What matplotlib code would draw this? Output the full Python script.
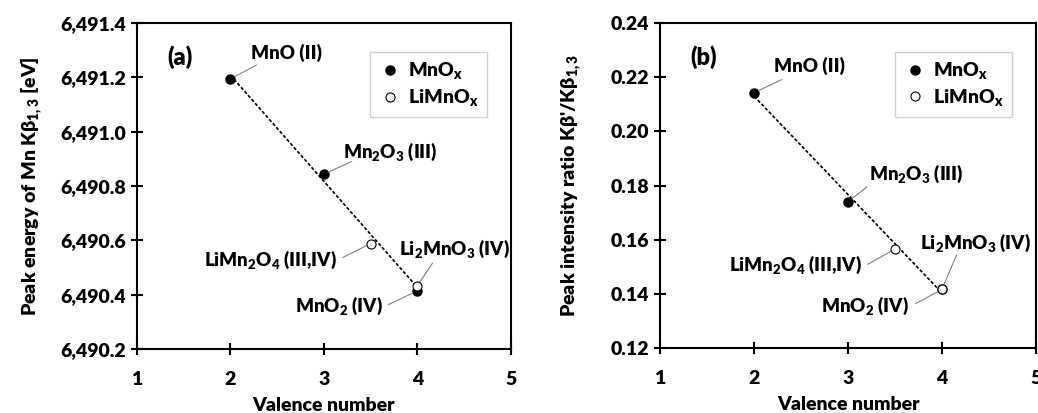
import numpy as np
import matplotlib
matplotlib.use('Agg')
import matplotlib.pyplot as plt
from matplotlib.ticker import FuncFormatter

W = 'heavy'
plt.rcParams['font.family'] = ['Lato', 'DejaVu Sans']
plt.rcParams['font.weight'] = W
plt.rcParams['mathtext.fontset'] = 'custom'
plt.rcParams['mathtext.rm'] = 'Lato:heavy'
plt.rcParams['mathtext.it'] = 'Lato:heavy'
plt.rcParams['mathtext.bf'] = 'Lato:heavy'

# data
mnox_val = [2, 3, 4]
mnox_names = ['MnO (II)', 'Mn$_2$O$_3$ (III)', 'MnO$_2$ (IV)']
limnox_val = [3.5, 4]
limnox_names = ['LiMn$_2$O$_4$ (III,IV)', 'Li$_2$MnO$_3$ (IV)']

energy_mnox = [6491.195, 6490.844, 6490.414]
energy_limnox = [6490.588, 6490.432]
ratio_mnox = [0.2143, 0.1741, 0.1417]
ratio_limnox = [0.1566, 0.1418]

# label placement (offset points): text offset, line start offset, ha
lab_a = {
    'MnO (II)': ((15, 19), (19, 10), 'left'),
    'Mn$_2$O$_3$ (III)': ((14, 16), (20, 9), 'left'),
    'MnO$_2$ (IV)': ((-25, -11), (-21, -10), 'right'),
    'LiMn$_2$O$_4$ (III,IV)': ((-24, -11.5), (-20, -10), 'right'),
    'Li$_2$MnO$_3$ (IV)': ((-13, 27), (11, 16.5), 'left'),
}
lab_b = {
    'MnO (II)': ((14, 19), (20, 9.5), 'left'),
    'Mn$_2$O$_3$ (III)': ((15, 20), (13.5, 10.5), 'left'),
    'MnO$_2$ (IV)': ((-24, -11.5), (-19, -10.3), 'right'),
    'LiMn$_2$O$_4$ (III,IV)': ((-23.5, -11.5), (-19.5, -11), 'right'),
    'Li$_2$MnO$_3$ (IV)': ((-15.5, 33), (10.5, 24.5), 'left'),
}

fig = plt.figure(figsize=(10.38, 4.13), dpi=100)
ax1 = fig.add_axes([0.132, 0.155, 0.360, 0.789])
ax2 = fig.add_axes([0.636, 0.157, 0.362, 0.787])


def draw(ax, y_mnox, y_limnox, labels, ylim, yticks, fmt, ylabel, tag, ypad):
    p = np.polyfit(mnox_val, y_mnox, 1)
    xs = np.array([2, 4])
    ax.plot(xs, np.polyval(p, xs), color='black', lw=1.2, linestyle=(0, (2, 1.2)), zorder=2)
    ax.plot(mnox_val, y_mnox, 'o', color='black', ms=6.5, zorder=3, label='MnO$_\\mathregular{x}$')
    ax.plot(limnox_val, y_limnox, 'o', mfc='white', mec='black', mew=0.8, ms=6.5, zorder=4,
            label='LiMnO$_\\mathregular{x}$')

    pts = list(zip(mnox_val, y_mnox, mnox_names)) + list(zip(limnox_val, y_limnox, limnox_names))
    for x, y, name in pts:
        toff, loff, ha = labels[name]
        ax.annotate('', xy=(x, y), xytext=loff, textcoords='offset points',
                    arrowprops=dict(arrowstyle='-', color='#808080', lw=0.8, shrinkA=0, shrinkB=3.5))
        ax.annotate(name, xy=(x, y), xytext=toff, textcoords='offset points',
                    ha=ha, va='center', fontsize=13.5, fontweight=W)

    ax.set_xlim(1, 5)
    ax.set_ylim(*ylim)
    ax.set_xticks([1, 2, 3, 4, 5])
    ax.set_yticks(yticks)
    ax.yaxis.set_major_formatter(FuncFormatter(fmt))
    ax.tick_params(direction='inout', length=9, width=1.5, labelsize=14, top=False, right=False)
    ax.tick_params(axis='x', pad=11)
    for s in ax.spines.values():
        s.set_linewidth(1.5)
    ax.set_xlabel('Valence number', fontsize=14, fontweight=W, labelpad=7)
    ax.set_ylabel(ylabel, fontsize=14, fontweight=W, labelpad=ypad)
    ax.text(0.115, 0.896, tag, transform=ax.transAxes, fontsize=17, fontweight=W,
            ha='center', va='center')
    leg = ax.legend(loc='upper right', bbox_to_anchor=(0.963, 0.942), fancybox=False,
                    edgecolor='#d0d0d0', framealpha=1, fontsize=14, handletextpad=0.3,
                    handlelength=1.2, borderpad=0.45, labelspacing=0.3)
    leg.get_frame().set_linewidth(1.0)


draw(ax1, energy_mnox, energy_limnox, lab_a, (6490.2, 6491.4),
     [6490.2, 6490.4, 6490.6, 6490.8, 6491.0, 6491.2, 6491.4],
     lambda v, pos: '{:,.1f}'.format(v),
     'Peak energy of Mn K\u03b2$_{1,3}$ [eV]', '(a)', 11)
draw(ax2, ratio_mnox, ratio_limnox, lab_b, (0.12, 0.24),
     [0.12, 0.14, 0.16, 0.18, 0.20, 0.22, 0.24],
     lambda v, pos: '{:.2f}'.format(v),
     "Peak intensity ratio K\u03b2'/K\u03b2$_{1,3}$", '(b)', 19)

fig.savefig('out.png', dpi=100)
